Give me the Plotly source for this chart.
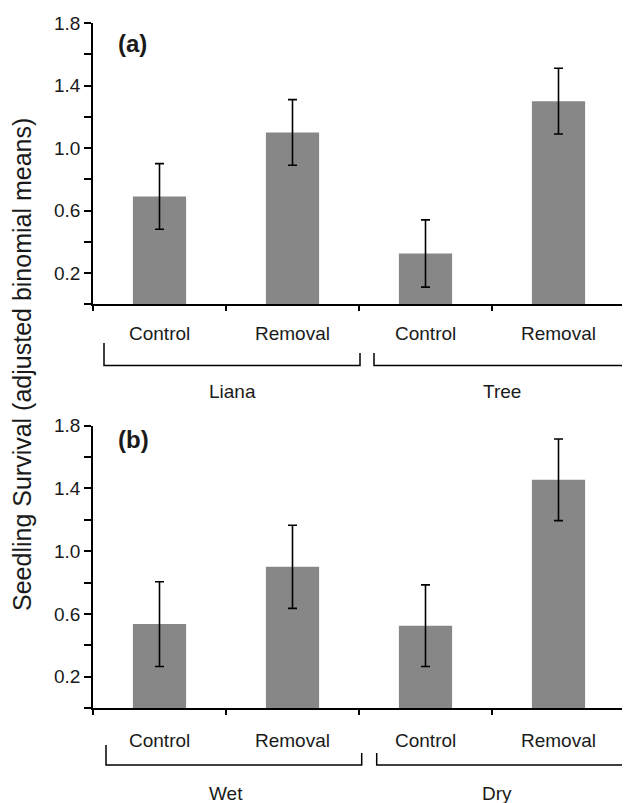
import plotly.graph_objects as go

# ---- data ----
conditions = ["Control", "Removal", "Control", "Removal"]
groups_a = ["Liana", "Tree"]
groups_b = ["Wet", "Dry"]
means_a = [0.69, 1.10, 0.325, 1.30]
err_a = [0.21, 0.21, 0.215, 0.21]
means_b = [0.535, 0.90, 0.525, 1.455]
err_b = [0.27, 0.265, 0.26, 0.26]
y_tickvals = [0, 0.2, 0.4, 0.6, 0.8, 1.0, 1.2, 1.4, 1.6, 1.8]
y_ticktext = ["", "0.2", "", "0.6", "", "1.0", "", "1.4", "", "1.8"]
panel_labels = ["(a)", "(b)"]
y_title = "Seedling Survival (adjusted binomial means)"

W, H = 630, 803
OFF = 8  # page body margin: figure is drawn 8px right/down of window origin
FONT = "Arial, 'Liberation Sans', sans-serif"
BAR = "#878787"
TXT = "#1a1a1a"


def px(x):
    return (x - OFF) / W


def py(y):
    return 1 - (y - OFF) / H


positions = list(range(len(conditions)))

fig = go.Figure()
fig.add_trace(go.Bar(
    x=positions, y=means_a, width=0.4, marker=dict(color=BAR, line=dict(width=0)),
    error_y=dict(type="data", array=err_a, color="black", thickness=1.6, width=4.5),
    xaxis="x", yaxis="y", showlegend=False, hoverinfo="skip"))
fig.add_trace(go.Bar(
    x=positions, y=means_b, width=0.4, marker=dict(color=BAR, line=dict(width=0)),
    error_y=dict(type="data", array=err_b, color="black", thickness=1.6, width=4.5),
    xaxis="x2", yaxis="y2", showlegend=False, hoverinfo="skip"))

xdom = [px(93), px(625)]
ydom_a = [py(304.3), py(23)]
ydom_b = [py(708), py(425.7)]

xcommon = dict(range=[-0.5, 3.5], tickmode="array", tickvals=[-0.5, 0.5, 1.5, 2.5, 3.5],
               showticklabels=False, ticks="outside", ticklen=5, tickwidth=1.5, tickcolor="black",
               showline=True, linecolor="black", linewidth=1.8, showgrid=False, zeroline=False,
               fixedrange=True, domain=xdom, automargin=False)
ycommon = dict(range=[0, 1.8], tickmode="array", tickvals=y_tickvals, ticktext=y_ticktext,
               ticks="outside", ticklen=7, tickwidth=1.5, tickcolor="black",
               showline=True, linecolor="black", linewidth=1.8, showgrid=False, zeroline=False,
               tickfont=dict(family=FONT, size=19, color=TXT), fixedrange=True, automargin=False)

fig.update_layout(
    width=W, height=H, autosize=False,
    margin=dict(l=0, r=0, t=0, b=0, pad=0),
    paper_bgcolor="white", plot_bgcolor="white",
    bargap=0.6,
    xaxis=dict(**xcommon, anchor="y"),
    yaxis=dict(**ycommon, domain=ydom_a, anchor="x"),
    xaxis2=dict(**xcommon, anchor="y2"),
    yaxis2=dict(**ycommon, domain=ydom_b, anchor="x2"),
)

ann = []
# category labels
for i, c in enumerate(conditions):
    ann.append(dict(x=i, y=py(333), xref="x", yref="paper", text=c, showarrow=False,
                    xanchor="center", yanchor="middle", font=dict(family=FONT, size=19, color=TXT)))
    ann.append(dict(x=i, y=py(740), xref="x2", yref="paper", text=c, showarrow=False,
                    xanchor="center", yanchor="middle", font=dict(family=FONT, size=19, color=TXT)))

# group brackets + labels
shapes = []
brackets_a = [(104, 360, 343), (374, 629, 353)]
brackets_b = [(106, 361.7, 745), (376.7, 640, 753)]
for (x0, x1, ytop), g in zip(brackets_a, groups_a):
    yb = 365.5
    shapes.append(dict(type="path", xref="paper", yref="paper",
                       path=f"M {px(x0)},{py(ytop)} L {px(x0)},{py(yb)} L {px(x1)},{py(yb)} L {px(x1)},{py(353)}",
                       line=dict(color="black", width=1.5)))
    ann.append(dict(x=px((x0 + x1) / 2), y=py(391), xref="paper", yref="paper", text=g, showarrow=False,
                    xanchor="center", yanchor="middle", font=dict(family=FONT, size=19, color=TXT)))
for (x0, x1, ytop), g, lx in zip(brackets_b, groups_b, [226, 497]):
    yb = 765
    shapes.append(dict(type="path", xref="paper", yref="paper",
                       path=f"M {px(x0)},{py(ytop)} L {px(x0)},{py(yb)} L {px(x1)},{py(yb)} L {px(x1)},{py(753)}",
                       line=dict(color="black", width=1.5)))
    ann.append(dict(x=px(lx), y=py(793), xref="paper", yref="paper", text=g, showarrow=False,
                    xanchor="center", yanchor="middle", font=dict(family=FONT, size=19, color=TXT)))

# panel labels
ann.append(dict(x=px(132), y=py(44), xref="paper", yref="paper", text="<b>" + panel_labels[0] + "</b>",
                showarrow=False, xanchor="center", yanchor="middle", font=dict(family=FONT, size=24, color=TXT)))
ann.append(dict(x=px(133), y=py(439), xref="paper", yref="paper", text="<b>" + panel_labels[1] + "</b>",
                showarrow=False, xanchor="center", yanchor="middle", font=dict(family=FONT, size=24, color=TXT)))

# y-axis title
ann.append(dict(x=px(22), y=py(365), xref="paper", yref="paper", text=y_title, textangle=-90,
                showarrow=False, xanchor="center", yanchor="middle", font=dict(family=FONT, size=25, color=TXT)))

fig.update_layout(annotations=ann, shapes=shapes)
fig.write_html("out.html")
